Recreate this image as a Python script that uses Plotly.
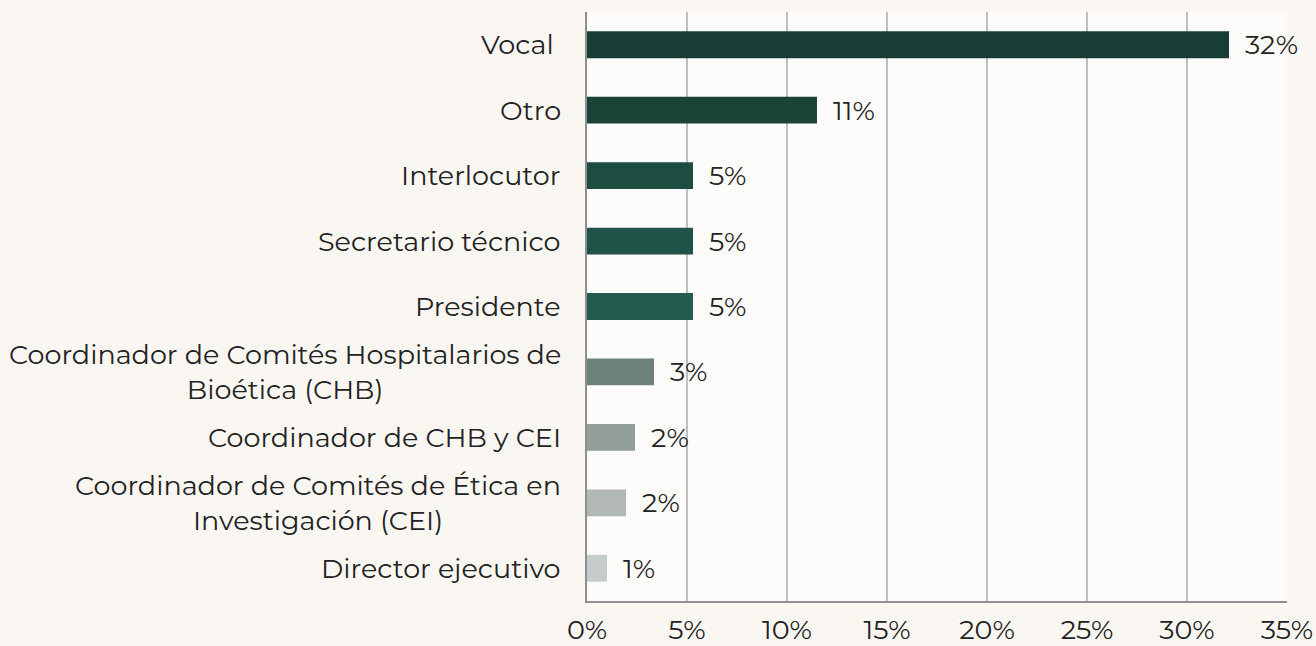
import plotly.graph_objects as go

categories = [
    "Vocal\u00a0",
    "Otro",
    "Interlocutor",
    "Secretario técnico",
    "Presidente",
    "Coordinador de Comités Hospitalarios de<br>Bioética (CHB)",
    "Coordinador de CHB y CEI",
    "Coordinador de Comités de Ética en<br>Investigación (CEI)",
    "Director ejecutivo",
]
values = [32.1, 11.5, 5.3, 5.3, 5.3, 3.35, 2.4, 1.95, 1.0]
value_labels = ["32%", "11%", "5%", "5%", "5%", "3%", "2%", "2%", "1%"]
bar_colors = ["#183d35", "#1b4439", "#1d4c40", "#205347", "#235b4e",
              "#6f8279", "#929e98", "#b1b8b5", "#c6cccb"]
x_ticks = [0, 5, 10, 15, 20, 25, 30, 35]
x_tick_labels = ["0%", "5%", "10%", "15%", "20%", "25%", "30%", "35%"]

FONT = "Montserrat, 'Open Sans', 'DejaVu Sans', sans-serif"
TXT = "#222222"
FS = 27

fig = go.Figure(go.Bar(
    x=values, y=categories, orientation="h",
    marker=dict(color=bar_colors, line=dict(width=0)),
    hoverinfo="skip",
))

annotations = []
for c in categories:
    annotations.append(dict(
        x=0, xref="paper", y=c, yref="y", text=c, showarrow=False,
        xanchor="right", yanchor="middle", align="center", xshift=-24,
        font=dict(family=FONT, size=FS, color=TXT),
    ))
for c, v, t in zip(categories, values, value_labels):
    annotations.append(dict(
        x=v, xref="x", y=c, yref="y", text=t, showarrow=False,
        xanchor="left", yanchor="middle", xshift=14,
        font=dict(family=FONT, size=FS, color=TXT),
    ))

fig.update_layout(
    width=1316, height=646,
    margin=dict(l=587, r=29, t=12, b=45, autoexpand=False),
    paper_bgcolor="#faf7f3",
    plot_bgcolor="#fdfcfa",
    bargap=0.59,
    showlegend=False,
    annotations=annotations,
    font=dict(family=FONT, size=FS, color=TXT),
    xaxis=dict(
        range=[0, 35], tickvals=x_ticks, ticktext=x_tick_labels,
        showgrid=True, gridcolor="#bfbfbf", gridwidth=2,
        showline=True, linecolor="#8f8f8f", linewidth=2,
        zeroline=False, ticks="", ticklabelstandoff=4,
        tickfont=dict(family=FONT, size=FS, color=TXT),
        automargin=False, fixedrange=True,
    ),
    yaxis=dict(
        categoryorder="array", categoryarray=categories,
        autorange="reversed", showticklabels=False,
        showline=True, linecolor="#8f8f8f", linewidth=2,
        showgrid=False, zeroline=False, ticks="",
        automargin=False, fixedrange=True,
    ),
)

fig.write_html(
    "out.html",
    config={"displayModeBar": False, "responsive": False},
    post_script="document.body.style.margin='0';document.body.style.overflow='hidden';",
)
